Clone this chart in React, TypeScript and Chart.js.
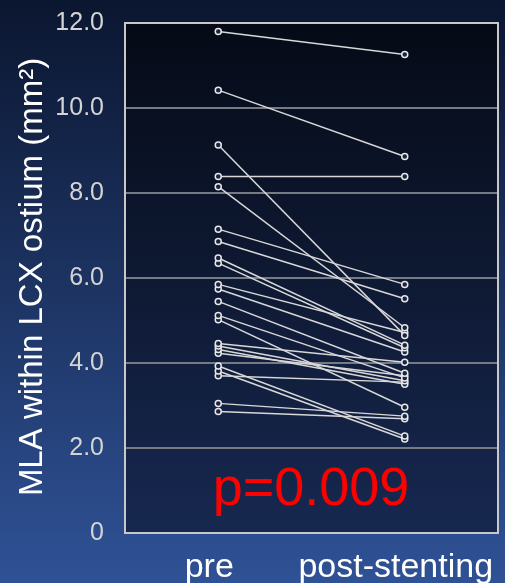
import React, { useEffect, useRef } from "react";
import { Chart, registerables } from "chart.js";

Chart.register(...registerables);

const categories = ["pre", "post-stenting"];
const preValues = [11.8, 10.42, 9.13, 8.39, 8.15, 7.15, 6.86, 6.47, 6.35, 5.85, 5.74, 5.45, 5.12, 5.02, 4.46, 4.4, 4.32, 4.23, 3.93, 3.81, 3.7, 3.05, 2.86];
const postValues = [11.26, 8.86, 4.65, 8.39, 4.83, 5.85, 5.51, 4.42, 4.36, 4.72, 4.26, 3.76, 3.65, 2.96, 4.02, 3.58, 3.5, 3.7, 2.28, 2.21, 3.55, 2.75, 2.69];
const yTickValues = [0, 2, 4, 6, 8, 10, 12];
const yTitle = "MLA within LCX ostium (mm²)";
const pText = "p=0.009";

const FONT = "'Liberation Sans', Arial, sans-serif";

const decorPlugin = {
  id: "decor",
  beforeDraw(chart: any) {
    const { ctx, width, height, chartArea } = chart;
    ctx.save();
    const g = ctx.createLinearGradient(0, 0, 0, height);
    g.addColorStop(0, "#0b1630");
    g.addColorStop(1, "#2f5296");
    ctx.fillStyle = g;
    ctx.fillRect(0, 0, width, height);
    const g2 = ctx.createLinearGradient(0, chartArea.top, 0, chartArea.bottom);
    g2.addColorStop(0, "#050a16");
    g2.addColorStop(1, "#172850");
    ctx.fillStyle = g2;
    ctx.fillRect(chartArea.left, chartArea.top, chartArea.right - chartArea.left, chartArea.bottom - chartArea.top);
    ctx.restore();
  },
  afterDraw(chart: any) {
    const { ctx, chartArea } = chart;
    ctx.save();
    ctx.strokeStyle = "#c8c8c8";
    ctx.lineWidth = 2;
    ctx.strokeRect(chartArea.left, chartArea.top, chartArea.right - chartArea.left, chartArea.bottom - chartArea.top);
    // p value
    ctx.fillStyle = "#ff0000";
    ctx.font = `54px ${FONT}`;
    ctx.textAlign = "center";
    ctx.textBaseline = "middle";
    ctx.fillText(pText, 311, 490);
    // y title
    ctx.translate(33, 277);
    ctx.rotate(-Math.PI / 2);
    ctx.fillStyle = "#ffffff";
    ctx.font = `33px ${FONT}`;
    ctx.fillText(yTitle, 0, 0);
    ctx.restore();
  },
};

export default function App() {
  const ref = useRef<HTMLCanvasElement>(null);
  useEffect(() => {
    document.body.style.margin = "0";
    const datasets = preValues.map((v, i) => ({
      label: "patient " + (i + 1),
      data: [v, postValues[i]],
      borderColor: "#d8d8d8",
      borderWidth: 1.5,
      pointRadius: 3,
      pointBorderWidth: 1.5,
      pointBorderColor: "#e8e8e8",
      pointBackgroundColor: "#1a2440",
    }));
    const chart = new Chart(ref.current!, {
      type: "line",
      data: { labels: categories, datasets },
      options: {
        responsive: false,
        animation: false,
        layout: { padding: { top: 23, right: 7, left: 0, bottom: 0 } },
        plugins: { legend: { display: false }, tooltip: { enabled: false } },
        scales: {
          x: {
            type: "category",
            offset: true,
            grid: { display: false, drawTicks: false },
            border: { display: false },
            ticks: { color: "#ffffff", font: { family: FONT, size: 34 }, padding: 14, labelOffset: -9, maxRotation: 0, autoSkip: false },
            afterFit(scale: any) {
              scale.height = 50;
              scale.paddingLeft = 0;
              scale.paddingRight = 0;
              scale.paddingTop = 0;
              scale.paddingBottom = 0;
            },
          },
          y: {
            min: 0,
            max: 12,
            afterBuildTicks(scale: any) {
              scale.ticks = yTickValues.map((v) => ({ value: v }));
            },
            grid: {
              drawTicks: false,
              color: (c: any) => (c.tick && (c.tick.value === 0 || c.tick.value === 12) ? "rgba(0,0,0,0)" : "#767a82"),
              lineWidth: 2,
            },
            border: { display: false },
            ticks: {
              color: "#d4d4d4",
              font: { family: FONT, size: 25 },
              padding: 21,
              callback: (v: any) => (v === 0 ? "0" : Number(v).toFixed(1)),
            },
            afterFit(scale: any) {
              scale.width = 125;
              scale.paddingLeft = 0;
              scale.paddingRight = 0;
              scale.paddingTop = 0;
              scale.paddingBottom = 0;
            },
          },
        },
      },
      plugins: [decorPlugin],
    });
    return () => chart.destroy();
  }, []);
  return (
    <div style={{ width: 505, height: 583 }}>
      <canvas ref={ref} width={505} height={583} style={{ display: "block" }} />
    </div>
  );
}
